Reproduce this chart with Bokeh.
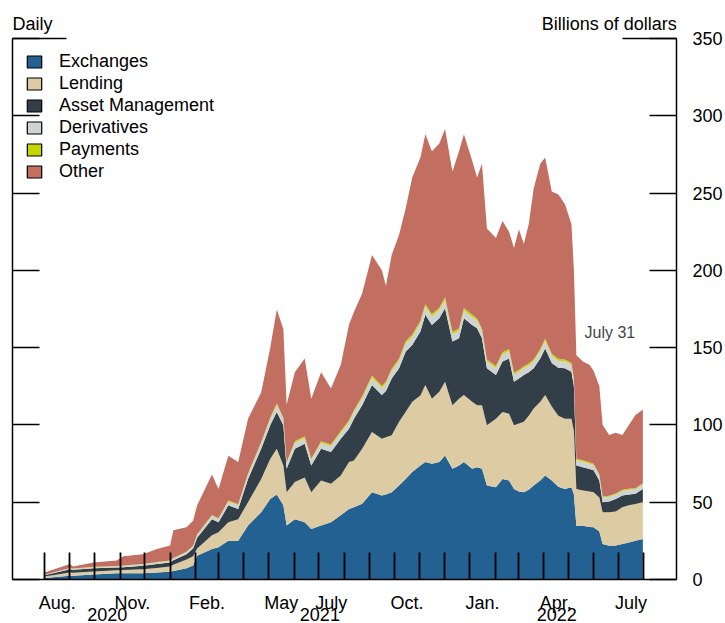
import pandas as pd
from bokeh.plotting import figure
from bokeh.models import (ColumnDataSource, LinearAxis, FixedTicker, Legend,
                          LegendItem, Label)
from bokeh.embed import file_html
from bokeh.resources import INLINE

# ---------------- data (billions of dollars) ----------------
dates = ["2020-08-01", "2020-09-01", "2020-09-05", "2020-09-30", "2020-10-28", "2020-11-05",
         "2020-11-29", "2020-12-16", "2021-01-01", "2021-01-05", "2021-01-21", "2021-01-29",
         "2021-02-03", "2021-02-21", "2021-03-01", "2021-03-13", "2021-03-25", "2021-04-06",
         "2021-04-22", "2021-05-03", "2021-05-11", "2021-05-19", "2021-05-23", "2021-06-02",
         "2021-06-14", "2021-06-22", "2021-07-04", "2021-07-16", "2021-07-28", "2021-08-07",
         "2021-08-13", "2021-08-23", "2021-09-04", "2021-09-16", "2021-09-21", "2021-09-28",
         "2021-10-07", "2021-10-15", "2021-10-23", "2021-11-02", "2021-11-08", "2021-11-16",
         "2021-11-25", "2021-12-02", "2021-12-11", "2021-12-19", "2021-12-25", "2022-01-04",
         "2022-01-10", "2022-01-16", "2022-01-22", "2022-02-02", "2022-02-10", "2022-02-18",
         "2022-02-24", "2022-03-02", "2022-03-08", "2022-03-14", "2022-03-20", "2022-03-28",
         "2022-04-03", "2022-04-11", "2022-04-19", "2022-04-27", "2022-05-05", "2022-05-08",
         "2022-05-11", "2022-05-19", "2022-05-27", "2022-06-01", "2022-06-08", "2022-06-12",
         "2022-06-20", "2022-06-28", "2022-07-06", "2022-07-14", "2022-07-22", "2022-07-31"]

exchanges = [1.0, 2.5, 2.4, 3.2, 4.0, 4.0, 4.0, 4.5, 5.0, 5.5,
             7.3, 9.0, 15.4, 19.7, 20.8, 25.0, 25.0, 35.0, 43.5, 52.0,
             55.0, 48.0, 35.0, 39.0, 37.0, 32.7, 35.0, 37.0, 41.5, 45.6,
             46.8, 49.0, 56.5, 54.3, 55.0, 56.5, 60.8, 65.0, 69.5, 73.8,
             76.0, 74.9, 76.0, 80.3, 71.6, 73.8, 76.0, 71.6, 72.7, 71.6,
             60.8, 59.7, 65.0, 64.0, 58.6, 57.0, 56.5, 58.0, 60.8, 64.0,
             67.3, 64.0, 60.0, 58.6, 59.7, 55.0, 34.8, 34.8, 34.0, 33.8,
             31.0, 22.9, 21.9, 22.0, 22.9, 24.0, 25.1, 26.2]

lending = [1.0, 2.0, 1.9, 2.0, 2.0, 2.2, 2.7, 3.0, 3.4, 4.0,
           5.7, 6.0, 4.6, 8.9, 9.7, 12.0, 14.0, 15.0, 21.5, 26.0,
           29.6, 25.8, 21.5, 24.0, 29.0, 23.8, 29.0, 25.0, 25.8, 30.4,
           30.2, 35.6, 39.0, 36.7, 37.0, 36.8, 41.2, 43.4, 45.5, 45.2,
           49.8, 42.1, 45.4, 47.7, 41.2, 43.2, 43.3, 43.4, 40.1, 41.2,
           39.0, 44.3, 43.4, 43.3, 41.2, 44.0, 45.5, 48.0, 49.8, 51.0,
           52.0, 48.0, 46.0, 45.4, 44.3, 41.0, 23.8, 22.8, 23.0, 22.7,
           22.0, 20.6, 21.6, 22.0, 23.9, 24.0, 23.8, 23.8]

asset_management = [0.7, 2.2, 2.0, 2.1, 1.8, 1.8, 2.2, 2.5, 2.6, 3.0,
                    3.4, 5.0, 7.0, 10.4, 6.5, 11.0, 6.6, 15.0, 19.6, 21.8,
                    23.8, 26.0, 15.1, 21.6, 21.9, 17.3, 20.6, 20.5, 23.7, 21.6,
                    27.0, 28.2, 30.3, 28.3, 30.0, 36.7, 34.6, 39.0, 36.7, 41.4,
                    45.4, 47.7, 47.6, 47.5, 41.1, 39.0, 49.7, 49.7, 49.7, 43.2,
                    36.8, 28.3, 32.6, 35.7, 28.2, 29.0, 30.3, 28.0, 26.0, 28.0,
                    30.2, 28.0, 31.0, 32.6, 30.4, 29.0, 15.2, 15.1, 14.5, 14.1,
                    11.0, 6.5, 7.0, 8.0, 7.5, 7.0, 6.5, 8.6]

derivatives = [0.3, 0.6, 0.6, 0.7, 0.8, 0.8, 0.9, 1.0, 1.0, 1.1,
               1.3, 1.5, 1.8, 2.2, 2.2, 2.5, 2.5, 3.0, 3.5, 4.0,
               4.5, 4.0, 3.5, 3.8, 3.8, 3.5, 3.8, 3.8, 4.0, 4.2,
               4.3, 4.5, 4.8, 4.8, 4.8, 5.0, 5.0, 5.2, 5.2, 5.5,
               5.5, 5.5, 5.5, 5.5, 5.0, 5.0, 5.2, 5.2, 5.0, 5.0,
               4.6, 4.6, 4.8, 4.8, 4.5, 4.5, 4.5, 4.5, 4.6, 4.8,
               5.0, 4.8, 4.6, 4.6, 4.5, 4.3, 3.5, 3.5, 3.4, 3.4,
               3.2, 3.0, 3.0, 3.0, 3.0, 3.0, 3.0, 3.0]

payments = [0.1, 0.2, 0.2, 0.2, 0.2, 0.2, 0.2, 0.3, 0.3, 0.3,
            0.3, 0.4, 0.4, 0.5, 0.5, 0.6, 0.6, 0.7, 0.8, 0.9,
            1.0, 0.9, 0.8, 1.0, 1.0, 0.9, 1.0, 1.0, 1.1, 1.2,
            1.2, 1.3, 1.3, 1.3, 1.3, 1.4, 1.4, 1.5, 1.5, 1.5,
            1.6, 1.5, 1.5, 1.6, 1.4, 1.4, 1.5, 1.5, 1.4, 1.4,
            1.2, 1.2, 1.3, 1.3, 1.2, 1.2, 1.2, 1.2, 1.2, 1.3,
            1.3, 1.3, 1.2, 1.2, 1.2, 1.1, 0.9, 0.9, 0.9, 0.9,
            0.8, 0.7, 0.7, 0.7, 0.7, 0.7, 0.7, 0.7]

other = [1.4, 2.5, 1.3, 2.8, 3.5, 6.0, 6.4, 8.4, 9.7, 17.9,
         15.8, 16.1, 18.8, 26.3, 18.9, 28.9, 27.3, 35.3, 32.1, 45.3,
         60.7, 57.3, 37.1, 44.6, 50.3, 38.8, 44.6, 36.3, 42.9, 62.0,
         63.5, 66.4, 78.1, 74.6, 61.9, 73.6, 80.0, 85.9, 101.6, 105.6,
         109.7, 105.3, 106.0, 108.9, 103.7, 114.6, 112.3, 99.6, 91.1, 106.6,
         84.6, 82.9, 84.9, 75.9, 80.8, 90.9, 79.0, 90.3, 110.6, 119.9,
         117.2, 104.9, 106.2, 100.6, 89.9, 69.6, 66.8, 63.9, 63.2, 60.1,
         57.0, 46.3, 39.3, 39.3, 35.5, 41.3, 47.4, 47.7]

series_labels = ["Exchanges", "Lending", "Asset Management", "Derivatives", "Payments", "Other"]
series_keys = ["exchanges", "lending", "asset_management", "derivatives", "payments", "other"]
colors = ["#236192", "#DDCBA4", "#333F48", "#D0D3D4", "#C4D600", "#C26E60"]

label_months = ["2020-08", "2020-11", "2021-02", "2021-05", "2021-07",
                "2021-10", "2022-01", "2022-04", "2022-07"]
month_labels = ["Aug.", "Nov.", "Feb.", "May", "July", "Oct.", "Jan.", "Apr.", "July"]
year_labels = ["2020", "2021", "2022"]
y_ticks = [0, 50, 100, 150, 200, 250, 300, 350]
left_note = "Daily"
right_note = "Billions of dollars"
end_note = "July 31"

FONT = "Liberation Sans"
FS = "18px"

W, H = 725, 623
ML, MR, MT = 12, 47, 38
FRAME_W = W - ML - MR


def ms(ts):
    return pd.Timestamp(ts).value / 1e6


data_start, data_end = pd.Timestamp(dates[0]), pd.Timestamp(dates[-1])
x_start, x_end = ms("2020-06-23"), ms("2022-09-10")
ms_per_px = (x_end - x_start) / FRAME_W

src = ColumnDataSource(dict(
    date=pd.to_datetime(dates),
    exchanges=exchanges, lending=lending, asset_management=asset_management,
    derivatives=derivatives, payments=payments, other=other))

p = figure(width=W, height=H, x_axis_type="datetime", y_axis_location="right",
           x_range=(x_start, x_end), y_range=(0, 350),
           output_backend="svg", toolbar_location=None,
           min_border_left=ML, min_border_right=MR, min_border_top=MT, min_border_bottom=40)
p.outline_line_color = None
p.xgrid.visible = False
p.ygrid.visible = False
p.background_fill_color = "white"
p.border_fill_color = "white"

p.varea_stack(stackers=series_keys, x="date", fill_color=colors, source=src)


def plain_axis(ax):
    ax.axis_line_color = None
    ax.major_tick_line_color = None
    ax.minor_tick_line_color = None
    ax.major_tick_in = 0
    ax.major_tick_out = 0
    ax.minor_tick_in = 0
    ax.minor_tick_out = 0
    ax.major_label_text_font = FONT
    ax.major_label_text_font_size = FS
    ax.major_label_text_color = "black"


# ---------------- x axis: month ticks + labels ----------------
month_starts = pd.date_range(data_start.to_period("M").to_timestamp(),
                             (data_end + pd.offsets.MonthBegin(1)), freq="MS")
minor = [ms(t) for t in month_starts]
major = []
for m in label_months:
    s = pd.Timestamp(m + "-01")
    e = s + pd.offsets.MonthBegin(1)
    major.append((ms(s) + ms(e)) / 2)

xa = p.xaxis[0]
xa.ticker = FixedTicker(ticks=major, minor_ticks=minor)
xa.major_label_overrides = {t: lab for t, lab in zip(major, month_labels)}
xa.major_tick_line_color = None
xa.major_tick_in = 0
xa.major_tick_out = 0
xa.minor_tick_in = 27
xa.minor_tick_out = 0
xa.minor_tick_line_color = "black"
xa.minor_tick_line_width = 1.8
xa.axis_line_color = "black"
xa.axis_line_width = 1.5
xa.major_label_standoff = 13
xa.major_label_text_font = FONT
xa.major_label_text_font_size = FS
xa.major_label_text_color = "black"

# year row under the month row
year_pos = []
for yl in year_labels:
    ys = max(pd.Timestamp(yl + "-01-01"), data_start)
    ye = min(pd.Timestamp(str(int(yl) + 1) + "-01-01"), data_end + pd.Timedelta(days=1))
    year_pos.append((ms(ys) + ms(ye)) / 2)
yr = LinearAxis(ticker=FixedTicker(ticks=year_pos))
plain_axis(yr)
yr.major_label_overrides = {t: lab for t, lab in zip(year_pos, year_labels)}
yr.major_label_standoff = -8
p.add_layout(yr, "below")

# top notes ("Daily" at left, units at right)
w_left = 40.0
w_right = 135.0
top_pos = [x_start + (w_left / 2) * ms_per_px, x_end - (w_right / 2) * ms_per_px]
ta = LinearAxis(ticker=FixedTicker(ticks=top_pos))
plain_axis(ta)
ta.major_label_overrides = {top_pos[0]: left_note, top_pos[1]: right_note}
ta.major_label_standoff = 5
p.add_layout(ta, "above")

# ---------------- y axes ----------------
ya = p.yaxis[0]
ya.ticker = FixedTicker(ticks=y_ticks, minor_ticks=[350])
ya.major_tick_in = 27
ya.major_tick_out = 0
ya.minor_tick_in = 54
ya.minor_tick_out = 0
ya.minor_tick_line_color = "black"
ya.minor_tick_line_width = 1.5
ya.major_tick_line_color = "black"
ya.major_tick_line_width = 1.5
ya.axis_line_color = "black"
ya.axis_line_width = 1.5
ya.major_label_standoff = 16
ya.major_label_text_font = FONT
ya.major_label_text_font_size = FS
ya.major_label_text_color = "black"

la = LinearAxis(ticker=FixedTicker(ticks=y_ticks, minor_ticks=[350]))
la.major_tick_in = 27
la.major_tick_out = 0
la.minor_tick_in = 54
la.minor_tick_out = 0
la.minor_tick_line_color = "black"
la.minor_tick_line_width = 1.5
la.major_tick_line_color = "black"
la.major_tick_line_width = 1.5
la.axis_line_color = "black"
la.axis_line_width = 1.5
la.major_label_text_font_size = "0px"
la.major_label_text_color = None
la.major_label_standoff = 0
p.add_layout(la, "left")

# ---------------- legend ----------------
nan = float("nan")
items = []
for lab, c in zip(series_labels, colors):
    r = p.quad(left=[nan], right=[nan], top=[nan], bottom=[nan], fill_color=c,
               line_color="black", line_width=1.2)
    items.append(LegendItem(label=lab, renderers=[r]))
legend = Legend(items=items, location="top_left", margin=13, padding=0,
                spacing=1, glyph_width=18, glyph_height=15, label_height=15,
                label_standoff=16, label_text_font=FONT, label_text_font_size=FS,
                label_text_color="black", border_line_color=None,
                background_fill_alpha=0)
p.add_layout(legend)

# ---------------- end-of-data note ----------------
p.add_layout(Label(x=ms("2022-05-21"), y=160, text=end_note, text_font=FONT,
                   text_font_size="16px", text_align="left", text_baseline="middle"))

open("out.html", "w").write(file_html(p, INLINE))
